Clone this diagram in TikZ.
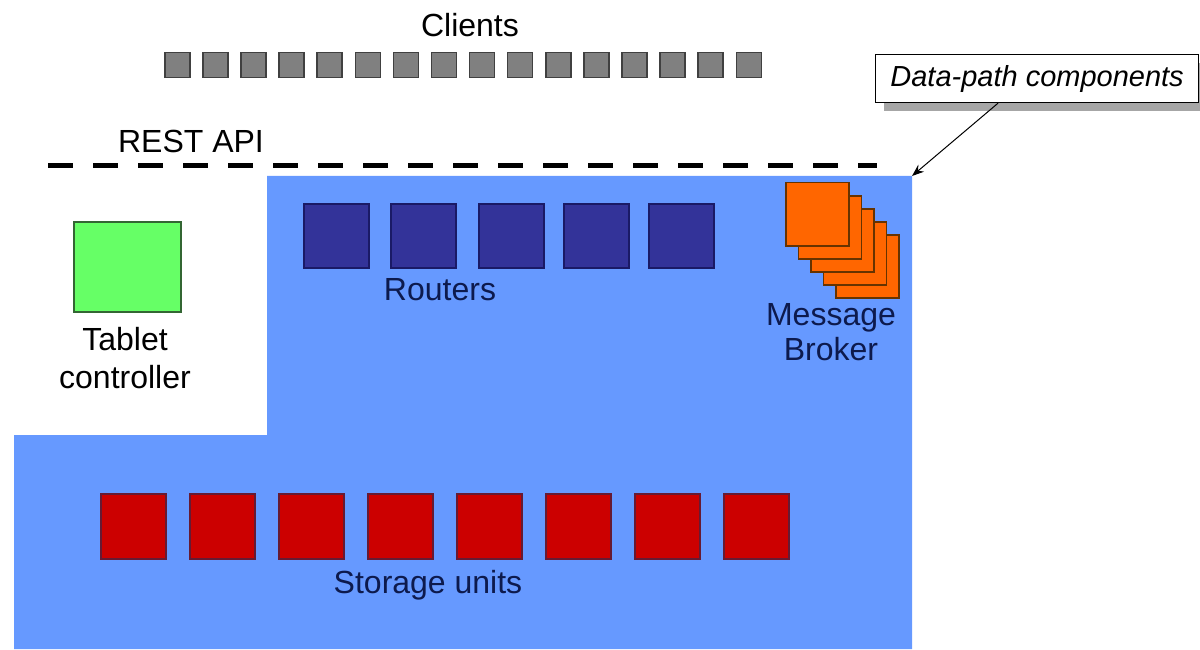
\documentclass[tikz,border=0pt]{standalone}
\usepackage{fontspec}
\setmainfont{Liberation Sans}
\usetikzlibrary{arrows.meta,shadows}
\definecolor{bluebg}{HTML}{6699FF}
\definecolor{routerfill}{HTML}{333399}
\definecolor{routerline}{HTML}{1A1A66}
\definecolor{redfill}{HTML}{CC0000}
\definecolor{redline}{HTML}{661A33}
\definecolor{greenfill}{HTML}{66FF66}
\definecolor{greenline}{HTML}{336633}
\definecolor{orangefill}{HTML}{FF6600}
\definecolor{orangeline}{HTML}{663300}
\definecolor{grayfill}{HTML}{808080}
\definecolor{grayline}{HTML}{404040}
\definecolor{navytext}{HTML}{0D1A4D}
\tikzset{
  sq/.style={draw, line width=1.5pt, inner sep=0pt, anchor=north west},
  clientbox/.style={sq, fill=grayfill, draw=grayline, minimum width=25pt, minimum height=25pt},
  routerbox/.style={sq, fill=routerfill, draw=routerline, minimum width=65pt, minimum height=64pt},
  storebox/.style={sq, fill=redfill, draw=redline, minimum width=65pt, minimum height=65pt},
  brokerbox/.style={sq, fill=orangefill, draw=orangeline, minimum width=63pt, minimum height=63pt},
  ctrlbox/.style={sq, fill=greenfill, draw=greenline, minimum width=107pt, minimum height=90pt},
  lbl/.style={inner sep=0pt, anchor=base, font=\fontsize{32}{38}\selectfont},
  navylbl/.style={lbl, text=navytext},
  apiline/.style={line width=5pt, dash pattern=on 25pt off 20pt},
  callout/.style={draw, line width=1.2pt, fill=white, minimum width=323pt, minimum height=48pt,
    inner sep=0pt, font=\fontsize{29}{34}\selectfont\itshape, anchor=north west,
    drop shadow={shadow xshift=8pt, shadow yshift=-8pt, fill=gray!70, opacity=1}},
}
\begin{document}
\begin{tikzpicture}[x=1pt,y=-1pt]
\useasboundingbox (0,0) rectangle (1200,650);
% blue data-path region
\fill[bluebg] (14,435) -- (267,435) -- (267,176) -- (912,176) -- (912,649) -- (14,649) -- cycle;
% clients
\node[lbl] (clientslbl) at (470,37) {Clients};
\foreach \i in {0,...,15} {
  \node[clientbox] (c\i) at ({164+38.1*\i},52) {};
}
% REST API
\node[lbl] (restlbl) at (191,153) {REST API};
\coordinate (apiL) at (48,166);
\coordinate (apiR) at (877,166);
\draw[apiline] (apiL) -- (apiR);
% tablet controller
\node[ctrlbox] (ctrl) at (73,221) {};
\node[lbl, align=center] (ctrllbl) at (125,388) {Tablet\\controller};
% routers
\foreach \x [count=\k] in {303,390,478,563,648} {
  \node[routerbox] (r\k) at (\x,203) {};
}
\node[navylbl] (routerslbl) at (440,300) {Routers};
% message broker
\foreach \k in {4,3,2,1,0} {
  \node[brokerbox] (mb\k) at ({785+12.5*\k},{182+13*\k}) {};
}
\node[navylbl, align=center, font=\fontsize{32}{35}\selectfont] (mblbl) at (831,360) {Message\\Broker};
% storage units
\foreach \k in {0,...,7} {
  \node[storebox] (s\k) at ({100+89*\k},493) {};
}
\node[navylbl] (storelbl) at (428,593) {Storage units};
% callout
\node[callout] (dp) at (875,54) {Data-path components};
\coordinate (corner) at (912,176);
\draw[line width=1pt, -{Stealth[length=12pt,width=9pt]}] ([xshift=123pt]dp.south west) -- (corner);
\end{tikzpicture}
\end{document}
